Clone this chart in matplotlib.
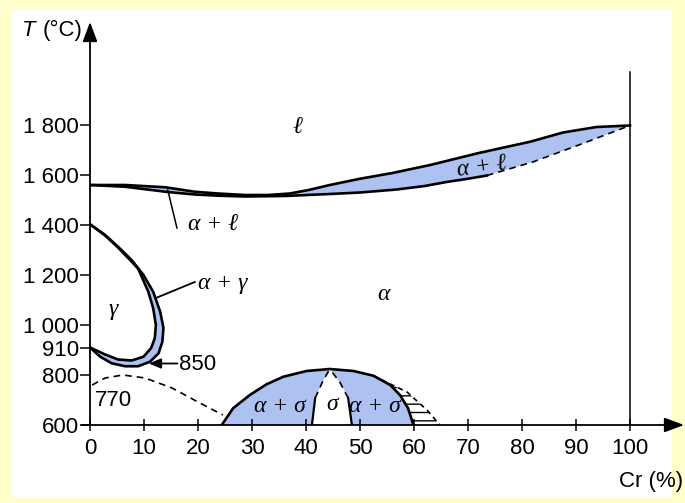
import matplotlib
matplotlib.use('Agg')
import matplotlib.pyplot as plt
from matplotlib.patches import Rectangle

# Fe-Cr phase diagram (x = % Cr, y = T in degC)
liq_x = [0, 6.5, 13.9, 19.4, 23.7, 28.7, 33, 37, 40.5, 44.4, 50, 56, 63, 72, 81.5, 87.6, 93.8, 100]
liq_t = [1560, 1560, 1551, 1533, 1526, 1520, 1520, 1526, 1540, 1560, 1585, 1608, 1640, 1688, 1733, 1770, 1792, 1798]
sol_x = [0, 6.5, 14.4, 19.4, 24, 28.7, 36, 44.4, 50, 56.8, 62, 66, 70, 73.5]
sol_t = [1560, 1553, 1532, 1522, 1517, 1514, 1516, 1524, 1530, 1542, 1556, 1572, 1585, 1598]
sol_dash_x = [73.5, 82, 91, 100]
sol_dash_t = [1598, 1652, 1724, 1798]

gam_out_x = [0, 2.8, 5.2, 7.7, 9.9, 11.7, 13, 13.6, 13.4, 12.7, 11.1, 8.9, 6.5, 4, 1.9, 0]
gam_out_t = [1403, 1360, 1313, 1260, 1200, 1133, 1053, 988, 933, 887, 853, 835, 835, 847, 873, 910]
gam_in_x = [0, 2.8, 5.2, 7.6, 8.9, 10.8, 11.7, 12.2, 12, 11.3, 9.9, 7.7, 5.2, 2.8, 0]
gam_in_t = [1403, 1358, 1310, 1256, 1226, 1133, 1067, 1000, 947, 907, 873, 858, 862, 882, 910]

curie_x = [0.4, 2.8, 6.1, 10.2, 15.2, 20, 24.6]
curie_t = [760, 788, 800, 788, 748, 692, 640]

dome_x = [24.4, 26.5, 29.6, 32.7, 35.8, 40.1, 44.4, 48.8, 52.5, 55.6, 57.4, 58.9, 59.9]
dome_t = [600, 667, 720, 763, 793, 816, 824, 816, 797, 760, 720, 667, 600]
sig_l_x = [41.1, 41.7]
sig_l_t = [600, 708]
sig_l_dash_x = [41.7, 43, 44.4]
sig_l_dash_t = [708, 770, 824]
sig_r_x = [48.5, 47.8]
sig_r_t = [600, 708]
sig_r_dash_x = [47.8, 46.3, 44.4]
sig_r_dash_t = [708, 770, 824]
hatch_x = [52.5, 55, 58.7, 62.4, 64.8]
hatch_t = [797, 770, 732, 660, 600]

yticks = [600, 800, 910, 1000, 1200, 1400, 1600, 1800]
ytick_labels = ['600', '800', '910', '1 000', '1 200', '1 400', '1 600', '1 800']
xticks = list(range(0, 101, 10))

blue = '#aec2f2'
lw = 1.9
sans = ['Liberation Sans', 'DejaVu Sans']
serif = ['Liberation Serif', 'DejaVu Serif']

fig = plt.figure(figsize=(6.85, 5.03), dpi=100, facecolor='#ffffcc')
fig.patches.append(Rectangle((12/685, 6/503), 660/685, 487/503, transform=fig.transFigure,
                             facecolor='white', edgecolor='none', zorder=-10))
ax = fig.add_axes([90/685, 78/503, 594/685, 403/503])
ax.patch.set_alpha(0)
ax.set_xlim(0, 110)
ax.set_ylim(600, 2212)
for s in ax.spines.values():
    s.set_visible(False)

# liquid + alpha band
ax.fill(liq_x + sol_dash_x[::-1] + sol_x[::-1], liq_t + sol_dash_t[::-1] + sol_t[::-1],
        color=blue, lw=0)
ax.plot(liq_x, liq_t, 'k', lw=lw, solid_joinstyle='round')
ax.plot(sol_x, sol_t, 'k', lw=lw, solid_joinstyle='round')
ax.plot(sol_dash_x, sol_dash_t, 'k--', lw=1.2, dashes=(4, 3))

# gamma loop
ax.fill(gam_out_x + gam_in_x[::-1], gam_out_t + gam_in_t[::-1], color=blue, lw=0)
ax.plot(gam_out_x, gam_out_t, 'k', lw=lw, solid_joinstyle='round')
ax.plot(gam_in_x, gam_in_t, 'k', lw=lw, solid_joinstyle='round')

# curie line
ax.plot(curie_x, curie_t, 'k--', lw=1.2, dashes=(4, 3))

# sigma dome
n = dome_x.index(44.4)
ax.fill(dome_x[:n + 1] + sig_l_dash_x[::-1] + sig_l_x[::-1],
        dome_t[:n + 1] + sig_l_dash_t[::-1] + sig_l_t[::-1], color=blue, lw=0)
ax.fill(dome_x[n:] + sig_r_x + sig_r_dash_x,
        dome_t[n:] + sig_r_t + sig_r_dash_t, color=blue, lw=0)
plt.rcParams['hatch.linewidth'] = 1.0
m = dome_x.index(52.5)
ax.fill(dome_x[m:] + hatch_x[::-1], dome_t[m:] + hatch_t[::-1], facecolor='none',
        edgecolor='black', hatch='--', lw=0)
ax.plot(dome_x, dome_t, 'k', lw=lw, solid_joinstyle='round')
ax.plot(sig_l_x, sig_l_t, 'k', lw=1.6)
ax.plot(sig_r_x, sig_r_t, 'k', lw=1.6)
ax.plot(sig_l_dash_x, sig_l_dash_t, 'k--', lw=1.2, dashes=(4, 3))
ax.plot(sig_r_dash_x, sig_r_dash_t, 'k--', lw=1.2, dashes=(4, 3))
ax.plot(hatch_x, hatch_t, 'k--', lw=1.2, dashes=(3, 2.5))

# Cr line
ax.plot([100, 100], [600, 2012], 'k', lw=1.1)

# axes with arrows
ax.annotate('', xy=(110, 600), xytext=(-1.5, 600), annotation_clip=False,
            arrowprops=dict(arrowstyle='-|>,head_length=0.8,head_width=0.3', color='k',
                            lw=1.3, mutation_scale=15, shrinkA=0, shrinkB=0))
ax.annotate('', xy=(0, 2212), xytext=(0, 600), annotation_clip=False,
            arrowprops=dict(arrowstyle='-|>,head_length=0.8,head_width=0.3', color='k',
                            lw=1.3, mutation_scale=15, shrinkA=0, shrinkB=0))

ax.set_yticks(yticks)
ax.set_yticklabels(ytick_labels, family=sans, fontsize=16)
ax.set_xticks(xticks)
ax.set_xticklabels([str(v) for v in xticks], family=sans, fontsize=16)
ax.tick_params(axis='y', direction='out', length=7, width=1.1, pad=1)
ax.tick_params(axis='x', direction='inout', length=9, width=1.1, pad=5)

# phase labels
kw = dict(family=serif, style='italic', fontsize=17, ha='center', va='center')
ax.text(38.5, 1788, 'ℓ', **kw)
ax.text(54.3, 1120, 'α', **kw)
ax.text(4.3, 1060, 'γ', **kw)
ax.text(35.2, 672, 'α + σ', **kw)
ax.text(44.8, 680, 'σ', **kw)
ax.text(52.8, 672, 'α + σ', **kw)
ax.text(72.6, 1628, 'α + ℓ', rotation=8, **kw)
ax.text(22.8, 1400, 'α + ℓ', **kw)
ax.plot([14.4, 16.1], [1540, 1388], 'k', lw=1.1)
ax.text(24.6, 1168, 'α + γ', **kw)
ax.plot([12.2, 19.4], [1108, 1172], 'k', lw=1.3)
ax.annotate('', xy=(10.9, 846), xytext=(16.2, 846),
            arrowprops=dict(arrowstyle='-|>,head_length=0.6,head_width=0.25', color='k',
                            lw=1.3, mutation_scale=12, shrinkA=0, shrinkB=0))
ax.text(20, 840, '850', family=sans, fontsize=16, ha='center', va='center')
ax.text(4.3, 700, '770', family=sans, fontsize=16, ha='center', va='center')

fig.text(22/685, 1 - 30/503, 'T', family=sans, style='italic', fontsize=16, ha='left', va='center')
fig.text(83/685, 1 - 30/503, '(°C)', family=sans, fontsize=16, ha='right', va='center')
fig.text(683/685, 1 - 482/503, 'Cr (%)', family=sans, fontsize=16, ha='right', va='center')

fig.savefig('out.png', dpi=100, facecolor=fig.get_facecolor())
